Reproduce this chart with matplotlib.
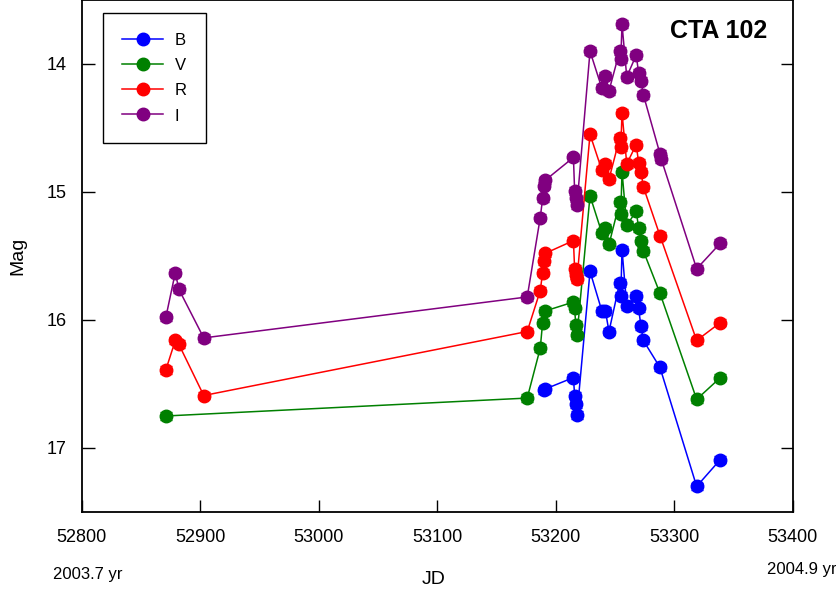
#!/usr/bin/env python

import numpy as np
import matplotlib
matplotlib.use('Agg')
import matplotlib.pyplot as plt

# optical light curves of CTA 102, one array per filter
jd_b = [53190, 53191, 53215, 53216, 53217, 53218, 53229, 53239, 53242,
        53245, 53254, 53255, 53256, 53260, 53268, 53270, 53272, 53274,
        53288, 53319, 53339]
mag_b = [16.55, 16.54, 16.45, 16.59, 16.66, 16.74, 15.62, 15.93, 15.93,
         16.09, 15.71, 15.81, 15.45, 15.89, 15.81, 15.91, 16.05, 16.16,
         16.37, 17.30, 17.09]

jd_v = [52871, 53176, 53187, 53189, 53191, 53215, 53216, 53217, 53218,
        53229, 53239, 53242, 53245, 53254, 53255, 53256, 53260, 53268,
        53270, 53272, 53274, 53288, 53319, 53339]
mag_v = [16.75, 16.61, 16.22, 16.02, 15.93, 15.86, 15.91, 16.04, 16.12,
         15.03, 15.32, 15.28, 15.41, 15.08, 15.17, 14.84, 15.26, 15.15,
         15.28, 15.38, 15.46, 15.79, 16.62, 16.45]

jd_r = [52871, 52879, 52882, 52903, 53176, 53187, 53189, 53190, 53191,
        53215, 53216, 53217, 53218, 53229, 53239, 53242, 53245, 53254,
        53255, 53256, 53260, 53268, 53270, 53272, 53274, 53288, 53319,
        53339]
mag_r = [16.39, 16.16, 16.19, 16.59, 16.09, 15.77, 15.63, 15.54, 15.48,
         15.38, 15.60, 15.65, 15.68, 14.55, 14.83, 14.78, 14.90, 14.58,
         14.65, 14.38, 14.78, 14.63, 14.77, 14.84, 14.96, 15.34, 16.16,
         16.02]

jd_i = [52871, 52879, 52882, 52903, 53176, 53187, 53189, 53190, 53191,
        53215, 53216, 53217, 53218, 53229, 53239, 53242, 53245, 53254,
        53255, 53256, 53260, 53268, 53270, 53272, 53274, 53288, 53289,
        53319, 53339]
mag_i = [15.98, 15.63, 15.76, 16.14, 15.82, 15.20, 15.05, 14.95, 14.91,
         14.73, 14.99, 15.05, 15.10, 13.90, 14.19, 14.09, 14.21, 13.90,
         13.96, 13.69, 14.10, 13.93, 14.07, 14.13, 14.24, 14.70, 14.74,
         15.60, 15.40]

bands = ['B', 'V', 'R', 'I']
colors = ['#0000ff', '#008000', '#ff0000', '#800080']
mag_err = 0.03

plt.rcParams['font.family'] = ['Liberation Sans', 'DejaVu Sans']

fig = plt.figure(figsize=(8.37, 5.91), dpi=100)
ax = fig.add_axes([0.0976, 0.1337, 0.8494, 0.8663])

series = [(jd_b, mag_b), (jd_v, mag_v), (jd_r, mag_r), (jd_i, mag_i)]
for (x, y), name, c in zip(series, bands, colors):
    ax.errorbar(x, y, yerr=mag_err, color=c, marker='o', markersize=9,
                linewidth=1.1, elinewidth=1, capsize=4, label=name)

ax.set_xlim(52800, 53400)
ax.set_ylim(17.5, 13.5)
ax.set_xticks(np.arange(52800, 53401, 100))
ax.set_yticks([14, 15, 16, 17])
ax.tick_params(direction='in', length=9, width=1, labelsize=13,
               right=True, top=False)
ax.tick_params(axis='x', pad=12)
ax.tick_params(axis='y', pad=11)
for sp in ax.spines.values():
    sp.set_linewidth(1.3)

ax.set_ylabel('Mag', fontsize=14, labelpad=14)
ax.text(0.964, 0.939, 'CTA 102', transform=ax.transAxes, ha='right',
        va='center', fontsize=18, fontweight='bold')

# errorbar containers -> plain handles for the legend
handles, labels = ax.get_legend_handles_labels()
handles = [h[0] for h in handles]
leg = ax.legend(handles, labels, loc='upper left',
                bbox_to_anchor=(0.030, 0.975), borderaxespad=0,
                fontsize=12, handlelength=2.45, handleheight=1.0,
                labelspacing=0.54, fancybox=False, edgecolor='black',
                framealpha=1, borderpad=1.15, handletextpad=0.7)
leg.get_frame().set_linewidth(1.0)

fig.text(0.518, 0.005, 'JD', ha='center', va='bottom', fontsize=14)
fig.text(0.063, 0.015, '2003.7 yr', ha='left', va='bottom', fontsize=12)
fig.text(1.0, 0.024, '2004.9 yr', ha='right', va='bottom', fontsize=12)

fig.savefig('out.png', dpi=100)
